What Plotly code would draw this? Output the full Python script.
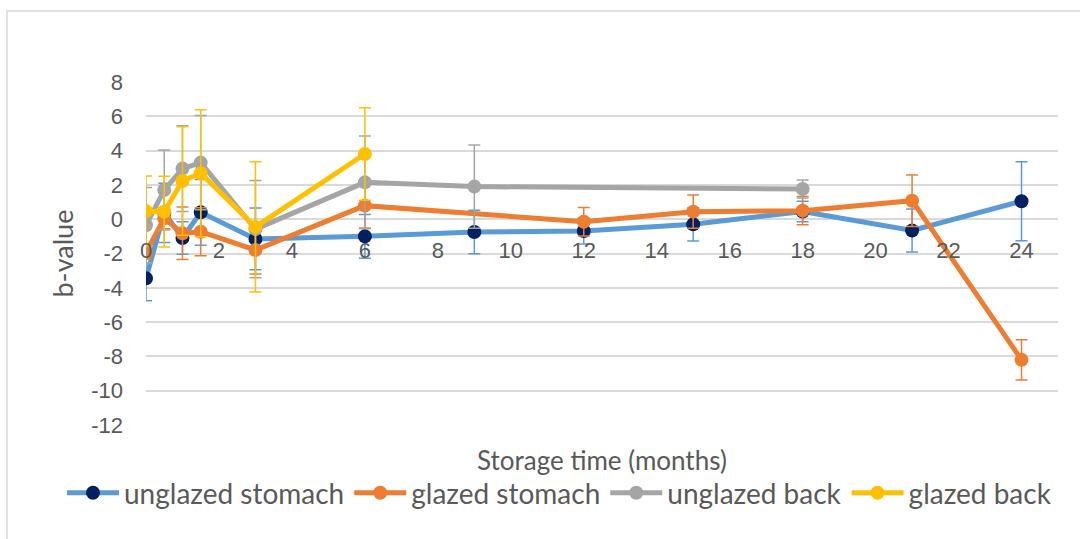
import plotly.graph_objects as go

# Storage time (months) and b-value means with standard deviations
t_unglazed_stomach = [0, 0.5, 1, 1.5, 3, 6, 9, 12, 15, 18, 21, 24]
b_unglazed_stomach = [-3.45, 0.37, -1.1, 0.4, -1.15, -1.0, -0.75, -0.69, -0.3, 0.45, -0.66, 1.05]
sd_unglazed_stomach = [1.3, 1.73, 0.95, 1.92, 1.8, 1.28, 1.27, 0.76, 0.97, 0.6, 1.25, 2.3]

t_glazed_stomach = [0, 0.5, 1, 1.5, 3, 6, 12, 15, 18, 21, 24]
b_glazed_stomach = [-1.93, 0.05, -0.82, -0.73, -1.8, 0.79, -0.15, 0.44, 0.5, 1.08, -8.2]
sd_glazed_stomach = [0.4, 0.6, 1.53, 1.4, 1.4, 1.3, 0.83, 0.97, 0.83, 1.5, 1.17]

t_unglazed_back = [0, 0.5, 1, 1.5, 3, 6, 9, 18]
b_unglazed_back = [-0.35, 1.7, 2.95, 3.3, -0.58, 2.15, 1.9, 1.76]
sd_unglazed_back = [2.2, 2.33, 2.5, 2.75, 2.83, 2.7, 2.43, 0.53]

t_glazed_back = [0, 0.5, 1, 1.5, 3, 6]
b_glazed_back = [0.47, 0.44, 2.23, 2.68, -0.45, 3.8]
sd_glazed_back = [2.05, 2.06, 3.16, 3.7, 3.8, 2.7]

x_ticks = list(range(0, 25, 2))
y_ticks = list(range(-12, 9, 2))

FONT = "Lato"
TICK_FONT = "Liberation Sans"
TEXT = "#595959"

series = [
    ("unglazed stomach", t_unglazed_stomach, b_unglazed_stomach, sd_unglazed_stomach, "#5B9BD5", "#002060"),
    ("glazed stomach", t_glazed_stomach, b_glazed_stomach, sd_glazed_stomach, "#ED7D31", "#ED7D31"),
    ("unglazed back", t_unglazed_back, b_unglazed_back, sd_unglazed_back, "#A5A5A5", "#A5A5A5"),
    ("glazed back", t_glazed_back, b_glazed_back, sd_glazed_back, "#FFC000", "#FFC000"),
]

fig = go.Figure()
for name, t, b, sd, line_col, mark_col in series:
    fig.add_trace(go.Scatter(
        x=t, y=b, name=name, mode="lines+markers",
        line=dict(color=line_col, width=5),
        marker=dict(color=mark_col, size=14),
        error_y=dict(type="data", array=sd, visible=True,
                     color=line_col, thickness=1.5, width=6),
    ))

W, H = 1080, 539
L, R, T, B = 146, 22, 82, 114
pw, ph = W - L - R, H - T - B

def px_x(p):
    return (p - L) / pw

def px_y(p):
    return (H - B - p) / ph

fig.update_layout(
    width=W, height=H,
    margin=dict(l=L, r=R, t=T, b=B),
    paper_bgcolor="white", plot_bgcolor="white",
    font=dict(family=FONT, color=TEXT, size=24),
    showlegend=True,
    legend=dict(orientation="h", x=px_x(62), xanchor="left",
                y=px_y(493), yanchor="middle",
                font=dict(size=28, color=TEXT, family=FONT),
                itemwidth=52, tracegroupgap=0),
    xaxis=dict(range=[0, 25], tickvals=x_ticks, ticktext=[str(v) for v in x_ticks],
               showgrid=False, zeroline=False, showline=False, ticks="",
               anchor="free", position=0.6, ticklabelstandoff=16,
               tickfont=dict(size=22, color=TEXT, family=TICK_FONT)),
    yaxis=dict(range=[-12, 8], tickvals=y_ticks, ticktext=[str(v) for v in y_ticks],
               showgrid=True, gridcolor="#D9D9D9", gridwidth=1.5,
               zeroline=False, showline=False, ticks="", ticklabelstandoff=22,
               tickfont=dict(size=22, color=TEXT, family=TICK_FONT)),
    annotations=[
        dict(text="b-value", textangle=-90, xref="paper", yref="paper",
             x=px_x(62), y=0.5, showarrow=False, xanchor="center", yanchor="middle",
             font=dict(size=27, color=TEXT, family=FONT)),
        dict(text="Storage time (months)", xref="paper", yref="paper",
             x=0.5, y=px_y(460), showarrow=False, xanchor="center", yanchor="middle",
             font=dict(size=26, color=TEXT, family=FONT)),
    ],
    shapes=[
        dict(type="rect", xref="paper", yref="paper",
             x0=px_x(7), x1=px_x(1095), y0=px_y(560), y1=px_y(11),
             line=dict(color="#D9D9D9", width=1.5), fillcolor="rgba(0,0,0,0)",
             layer="below"),
    ],
)

fig.write_html("out.html")
